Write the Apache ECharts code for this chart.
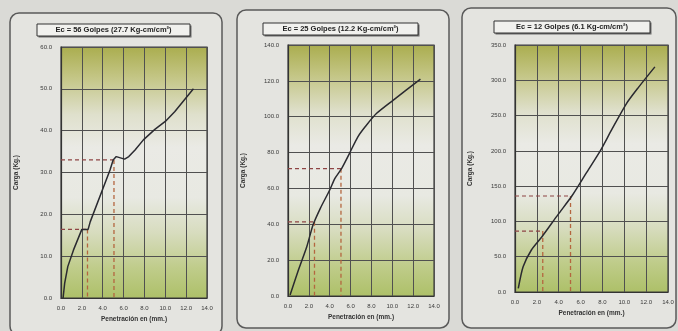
<!DOCTYPE html>
<html><head><meta charset="utf-8">
<script src="https://cdn.jsdelivr.net/npm/echarts@6/dist/echarts.min.js"></script>
<style>html,body{margin:0;padding:0;background:#dadad6;}#c{width:678px;height:331px;}</style>
</head><body><div id="c"></div><script>
// ---- data ----
const titles = ['Ec = 56 Golpes (27.7 Kg-cm/cm²)', 'Ec = 25 Golpes (12.2 Kg-cm/cm²)', 'Ec = 12 Golpes (6.1 Kg-cm/cm²)'];
const xName = 'Penetración en (mm.)';
const yName = 'Carga (Kg.)';
const xTicks = [0, 2, 4, 6, 8, 10, 12, 14];
const yTicks56 = [0, 10, 20, 30, 40, 50, 60];
const yTicks25 = [0, 20, 40, 60, 80, 100, 120, 140];
const yTicks12 = [0, 50, 100, 150, 200, 250, 300, 350];
const curve56 = [[0.2,0],[0.35,3.5],[0.65,7.5],[1.2,11.5],[2.0,16.4],[2.6,16.4],[2.8,18.2],[4.7,30.6],[5.0,33.0],[5.3,33.8],[5.7,33.5],[6.1,33.2],[6.5,33.8],[7.1,35.4],[7.9,37.8],[9.0,40.3],[10.0,42.2],[10.9,44.5],[12.7,50.0]];
const curve25 = [[0.2,0.6],[1.0,14.5],[1.8,27.5],[2.4,39.6],[3.1,48.9],[4.0,59.1],[4.5,65.6],[5.15,71.2],[5.9,79.6],[6.7,88.8],[7.4,94.4],[8.5,101.9],[10.1,109.3],[12.7,121.0]];
const curve12 = [[0.3,5],[0.75,36],[1.5,59.5],[2.45,78],[3.95,110],[5.2,136],[6.5,168],[7.8,200],[8.85,230],[10.2,267],[11.3,290],[12.8,319]];
const cbr56 = [[2.54,16.4],[5.08,33.0]];
const cbr25 = [[2.54,41.4],[5.08,71.0]];
const cbr12 = [[2.54,86.4],[5.08,136.0]];

// ---- layout / style ----
const panels = [
  {grid:{left:61,top:47,width:146,height:251}, frame:[10,13,212,322], tbox:[37,24,153,12], yTicks:yTicks56, curve:curve56, cbr:cbr56},
  {grid:{left:288,top:45,width:146,height:251}, frame:[237,10,212,318], tbox:[263,23,155,12], yTicks:yTicks25, curve:curve25, cbr:cbr25},
  {grid:{left:515,top:45,width:153,height:247}, frame:[462,8,214,320], tbox:[494,21,156,12], yTicks:yTicks12, curve:curve12, cbr:cbr12}
];
const bg = () => new echarts.graphic.LinearGradient(0,0,0,1,[
  {offset:0,color:'#aaad4e'},{offset:0.12,color:'#c3c584'},{offset:0.27,color:'#dfe0cc'},{offset:0.4,color:'#eaeae5'},
  {offset:0.6,color:'#e8e9e2'},{offset:0.74,color:'#d7dcbe'},{offset:0.88,color:'#bfcc8a'},{offset:1,color:'#adc068'}]);
const lbl = {fontSize:6, color:'#3a3a3a', fontFamily:'Liberation Sans'};
const grids=[], xAxes=[], yAxes=[], series=[], graphics=[];
panels.forEach((p,i)=>{
  const [fx,fy,fw,fh] = p.frame;
  graphics.push({type:'rect', z:-10, shape:{x:fx,y:fy,width:fw,height:fh,r:9}, style:{fill:'#e4e4e0',stroke:'#5a5a5a',lineWidth:1.5}});
  const [tx,ty,tw,th] = p.tbox;
  graphics.push({type:'rect', z:-9, shape:{x:tx+1.5,y:ty+1.5,width:tw,height:th}, style:{fill:'#6a6a6a'}});
  graphics.push({type:'rect', z:-8, shape:{x:tx,y:ty,width:tw,height:th}, style:{fill:'#f1f1ee',stroke:'#333',lineWidth:1}});
  graphics.push({type:'text', z:-7, x:tx+tw/2, y:ty+th/2, style:{text:titles[i], fill:'#222', font:'bold 7.5px "Liberation Sans"', textAlign:'center', textVerticalAlign:'middle'}});
  const yt = p.yTicks;
  grids.push(Object.assign({show:true, backgroundColor:bg(), borderColor:'#3c3c3c', borderWidth:1.2}, p.grid));
  xAxes.push({gridIndex:i, type:'value', min:xTicks[0], max:xTicks[xTicks.length-1], interval:xTicks[1]-xTicks[0],
    name:xName, nameLocation:'middle', nameGap:[18,15,17][i], nameTextStyle:{fontSize:6.5,fontWeight:'bold',color:'#333',fontFamily:'Liberation Sans'},
    axisLine:{lineStyle:{color:'#333',width:1.2}}, axisTick:{show:false},
    axisLabel:Object.assign({margin:7, formatter:v=>v.toFixed(1)}, lbl),
    splitLine:{lineStyle:{color:'#505050',width:1}}});
  yAxes.push({gridIndex:i, type:'value', min:yt[0], max:yt[yt.length-1], interval:yt[1]-yt[0],
    name:yName, nameLocation:'middle', nameGap:41, nameRotate:90, nameTextStyle:{fontSize:6.5,fontWeight:'bold',color:'#333',fontFamily:'Liberation Sans'},
    axisLine:{lineStyle:{color:'#333',width:1.2}}, axisTick:{show:false},
    axisLabel:Object.assign({margin:9, formatter:v=>v.toFixed(1)}, lbl),
    splitLine:{lineStyle:{color:'#505050',width:1}}});
  p.cbr.forEach(([cx,cy])=>{
    series.push({type:'line', xAxisIndex:i, yAxisIndex:i, data:[[0,cy],[cx,cy]], symbol:'none', silent:true,
      lineStyle:{color:'#8e4444',width:1.2,type:[4,3]}, z:3});
    series.push({type:'line', xAxisIndex:i, yAxisIndex:i, data:[[cx,cy],[cx,0]], symbol:'none', silent:true,
      lineStyle:{color:'#b4663f',width:1.3,type:[4,3]}, z:3});
  });
  series.push({type:'line', xAxisIndex:i, yAxisIndex:i, data:p.curve, symbol:'none', smooth:i===0?false:0.25,
    lineStyle:{color:'#2a2a30',width:1.5}, z:4});
});
const chart = echarts.init(document.getElementById('c'), null, {renderer:'canvas'});
chart.setOption({animation:false, backgroundColor:'#dadad6', grid:grids, xAxis:xAxes, yAxis:yAxes, series:series, graphic:graphics});
</script></body></html>
